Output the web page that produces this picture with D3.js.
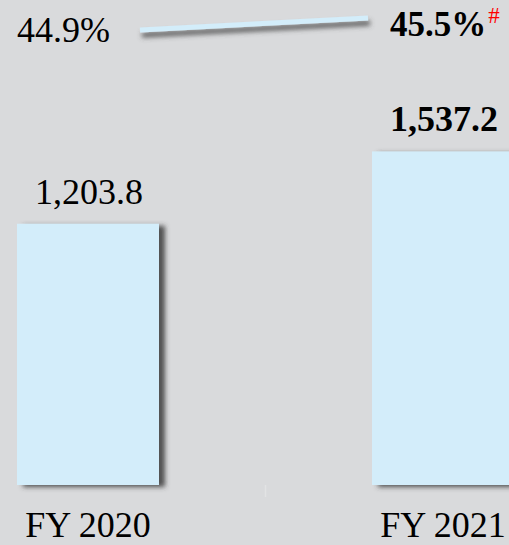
<!DOCTYPE html>
<html>
<head>
<meta charset="utf-8">
<script src="https://cdn.jsdelivr.net/npm/d3@7"></script>
<style>
    html, body { margin: 0; padding: 0; background: #d9dadc; overflow: hidden; }
    svg { display: block; font-family: "Liberation Serif", "Times New Roman", serif; }
</style>
</head>
<body>
<svg id="chart" width="509" height="545"></svg>
<script>
// Data
const categories = ['FY 2020', 'FY 2021'];
const revenue = [1203.8, 1537.2];
const margins = [44.9, 45.5];
const revenueLabels = ['1,203.8', '1,537.2'];
const marginLabels = ['44.9%', '45.5%'];

const svg = d3.select('#chart');
const width = 509;
const height = 545;

// Background
svg.append('rect')
    .attr('width', width)
    .attr('height', height)
    .attr('fill', '#d9dadc');

// Shadows
const defs = svg.append('defs');
defs.append('filter')
    .attr('id', 'bar-shadow')
    .attr('x', '-10%').attr('y', '-10%')
    .attr('width', '130%').attr('height', '130%')
    .append('feDropShadow')
    .attr('dx', 6).attr('dy', 2)
    .attr('stdDeviation', 2.5)
    .attr('flood-color', '#3a3a3a')
    .attr('flood-opacity', 0.85);

defs.append('filter')
    .attr('id', 'line-shadow')
    .attr('x', '-10%').attr('y', '-200%')
    .attr('width', '120%').attr('height', '500%')
    .append('feDropShadow')
    .attr('dx', 2).attr('dy', 5)
    .attr('stdDeviation', 2.5)
    .attr('flood-color', '#444')
    .attr('flood-opacity', 0.85);

// Scales
const x = d3.scaleBand()
    .domain(categories)
    .range([-89.5, 620.5])
    .paddingInner(0.6)
    .paddingOuter(0.3);

const y = d3.scaleLinear()
    .domain([0, 2235])
    .range([485, 0]);

const yPct = d3.scaleLinear()
    .domain([40, 50])
    .range([128, -72]);

// Faint divider tick between categories
const mid = x(categories[1]) - x.step() * x.paddingInner() / 2;
svg.append('line')
    .attr('x1', mid).attr('x2', mid)
    .attr('y1', 485).attr('y2', 497)
    .attr('stroke', '#e2e3e4')
    .attr('stroke-width', 1.5);

// Bars
svg.append('g')
    .selectAll('rect')
    .data(categories)
    .join('rect')
    .attr('x', d => x(d))
    .attr('y', (d, i) => y(revenue[i]))
    .attr('width', x.bandwidth())
    .attr('height', (d, i) => y(0) - y(revenue[i]))
    .attr('fill', '#d3edfa')
    .attr('filter', 'url(#bar-shadow)');

// Bar value labels
svg.append('g')
    .selectAll('text')
    .data(categories)
    .join('text')
    .attr('x', d => x(d) + x.bandwidth() / 2 + 1)
    .attr('y', (d, i) => y(revenue[i]) - 20)
    .attr('text-anchor', 'middle')
    .attr('font-size', 36)
    .attr('font-weight', (d, i) => i === 1 ? 'bold' : 'normal')
    .attr('fill', '#000')
    .text((d, i) => revenueLabels[i]);

// Category labels
svg.append('g')
    .selectAll('text')
    .data(categories)
    .join('text')
    .attr('x', d => x(d) + x.bandwidth() / 2)
    .attr('y', 537)
    .attr('text-anchor', 'middle')
    .attr('font-size', 36)
    .attr('fill', '#000')
    .text(d => d);

// Margin line
const lineX = [x(categories[0]) + x.bandwidth() / 2 + 52, x(categories[1]) + x.bandwidth() / 2 - 75];
svg.append('path')
    .datum(margins)
    .attr('d', d3.line()
        .x((d, i) => lineX[i])
        .y(d => yPct(d)))
    .attr('fill', 'none')
    .attr('stroke', '#d3edfa')
    .attr('stroke-width', 5)
    .attr('filter', 'url(#line-shadow)');

// Margin labels
svg.append('text')
    .attr('x', lineX[0] - 30)
    .attr('y', yPct(margins[0]) + 11.5)
    .attr('text-anchor', 'end')
    .attr('font-size', 36)
    .attr('fill', '#000')
    .text(marginLabels[0]);

const pct2 = svg.append('text')
    .attr('x', lineX[1] + 22)
    .attr('y', yPct(margins[1]) + 18)
    .attr('font-size', 35)
    .attr('font-weight', 'bold')
    .attr('fill', '#000')
    .text(marginLabels[1]);

pct2.append('tspan')
    .attr('dx', 2)
    .attr('dy', -13)
    .attr('font-size', 23)
    .attr('font-weight', 'normal')
    .attr('fill', '#ff0000')
    .text('#');
</script>
</body>
</html>
